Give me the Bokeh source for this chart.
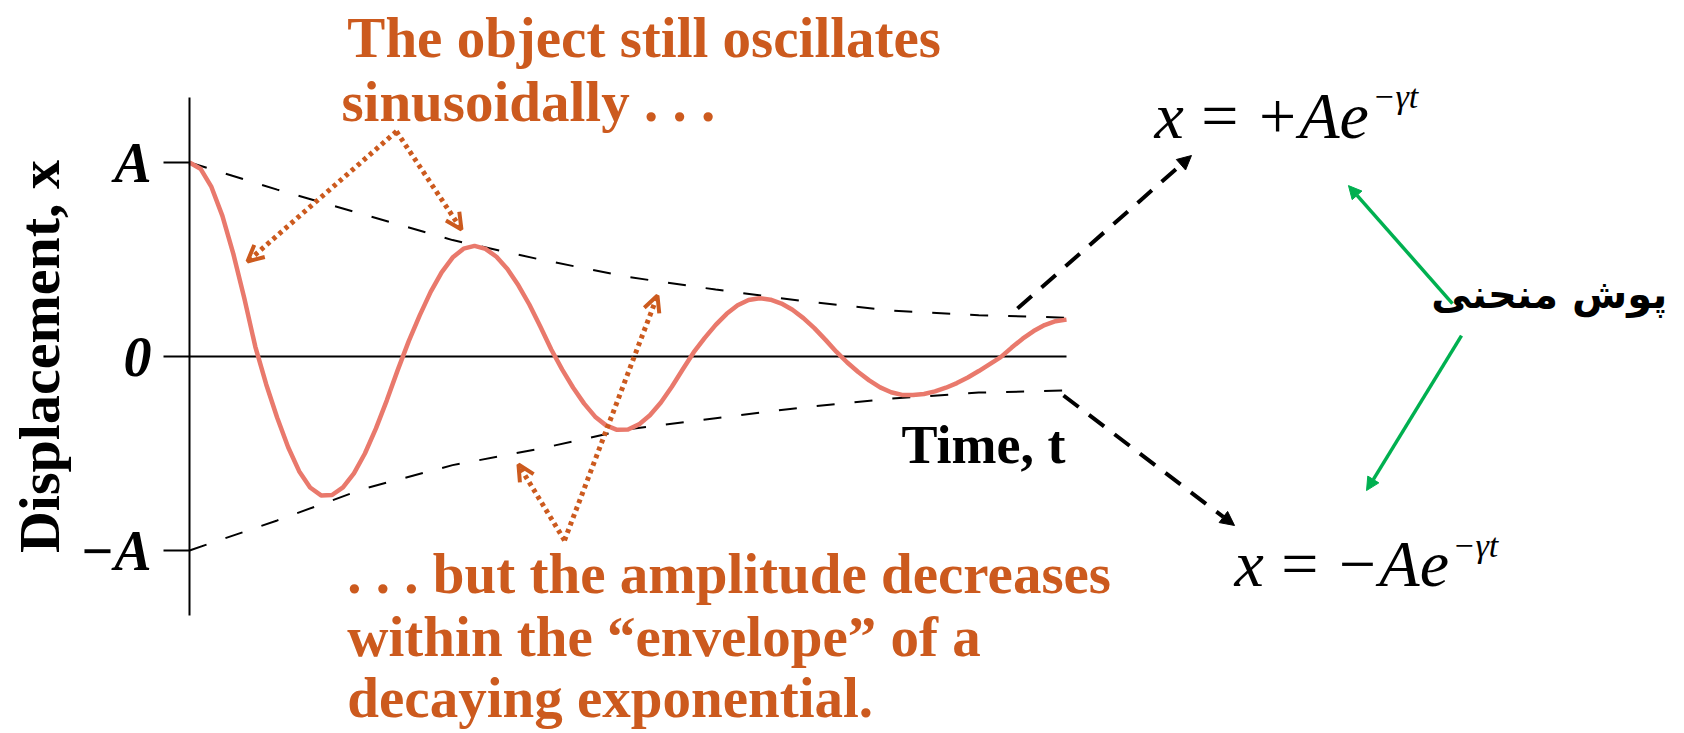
from bokeh.plotting import figure
from bokeh.models import Range1d, LinearAxis, FixedTicker, Arrow, OpenHead, NormalHead
from bokeh.core.properties import value
from bokeh.embed import file_html
from bokeh.resources import INLINE

# ---------------- data ----------------
# time (arbitrary units, axis runs 0..10) and displacement in units of A
time = [0.0, 0.125, 0.25, 0.375, 0.5, 0.625, 0.75, 0.875, 1.0, 1.125,
        1.25, 1.375, 1.5, 1.625, 1.75, 1.875, 2.0, 2.125, 2.25, 2.375,
        2.5, 2.625, 2.75, 2.875, 3.0, 3.125, 3.25, 3.375, 3.5, 3.625,
        3.75, 3.875, 4.0, 4.125, 4.25, 4.375, 4.5, 4.625, 4.75, 4.875,
        5.0, 5.125, 5.25, 5.375, 5.5, 5.625, 5.75, 5.875, 6.0, 6.125,
        6.25, 6.375, 6.5, 6.625, 6.75, 6.875, 7.0, 7.125, 7.25, 7.375,
        7.5, 7.625, 7.75, 7.875, 8.0, 8.125, 8.25, 8.375, 8.5, 8.625,
        8.75, 8.875, 9.0, 9.125, 9.25, 9.375, 9.5, 9.625, 9.75, 9.875, 10.0]
displacement = [1.000, 0.968, 0.874, 0.725, 0.529, 0.300, 0.051, -0.144, -0.316, -0.468,
                -0.591, -0.675, -0.716, -0.714, -0.675, -0.602, -0.500, -0.372, -0.226, -0.069,
                0.079, 0.212, 0.333, 0.434, 0.510, 0.556, 0.570, 0.555, 0.514, 0.451,
                0.367, 0.268, 0.155, 0.036, -0.068, -0.161, -0.243, -0.310, -0.355, -0.378,
                -0.376, -0.350, -0.303, -0.237, -0.156, -0.066, 0.022, 0.096, 0.163, 0.220,
                0.264, 0.291, 0.300, 0.293, 0.273, 0.241, 0.198, 0.146, 0.087, 0.025,
                -0.031, -0.080, -0.123, -0.159, -0.184, -0.198, -0.199, -0.193, -0.180, -0.161,
                -0.137, -0.108, -0.075, -0.039, -0.003, 0.046, 0.092, 0.131, 0.162, 0.182, 0.190]

env_time = [0, 1, 2, 3, 4, 5, 6, 7, 8, 9, 10]
env_upper = [1.00, 0.86, 0.73, 0.60, 0.50, 0.41, 0.345, 0.285, 0.237, 0.213, 0.20]
env_lower = [-1.00, -0.845, -0.68, -0.56, -0.475, -0.375, -0.318, -0.262, -0.217, -0.186, -0.175]

tick_values = [-1, 0, 1]
tick_labels = ["\u2212A", "0", "A"]

# ---------------- layout / style ----------------
W, H = 1684, 733
PX_T, PX_A = 87.7, 194.0          # pixels per time unit / per amplitude
OX, OY = 189.0, 356.0             # canvas position of the origin
ORANGE = "#CC5A1E"
CURVE = "#E9796C"
GREEN = "#00B050"
SERIF = value("Liberation Serif")

p = figure(width=W, height=H, output_backend="svg", toolbar_location=None,
           x_range=Range1d(-OX / PX_T, (W - OX) / PX_T),
           y_range=Range1d((OY - H) / PX_A, OY / PX_A),
           x_axis_type=None, y_axis_type=None, min_border=0,
           outline_line_color=None, background_fill_color="white",
           border_fill_color="white")

# vertical axis with A, 0, -A ticks
yaxis = LinearAxis(fixed_location=0, bounds=(-1.335, 1.335),
                   ticker=FixedTicker(ticks=tick_values),
                   major_label_overrides=dict(zip(tick_values, tick_labels)),
                   axis_line_width=2, axis_line_color="black",
                   major_tick_in=0, major_tick_out=26, major_tick_line_width=2,
                   minor_tick_line_color=None, major_label_standoff=12,
                   major_label_text_font="Liberation Serif",
                   major_label_text_font_style="bold italic",
                   major_label_text_font_size="56px", major_label_text_color="black",
                   axis_label="Displacement, x", axis_label_standoff=5,
                   axis_label_text_font="Liberation Serif",
                   axis_label_text_font_style="bold",
                   axis_label_text_font_size="58px", axis_label_text_color="black")
p.add_layout(yaxis, "left")

# horizontal time axis through zero
p.segment(x0=[0], y0=[0], x1=[env_time[-1]], y1=[0], line_color="black", line_width=2)

# envelope and damped oscillation
p.line(env_time, env_upper, line_color="black", line_width=2, line_dash="18 20")
p.line(env_time, env_lower, line_color="black", line_width=2, line_dash="18 20")
p.line(time, displacement, line_color=CURVE, line_width=4.5, line_join="round")

p.text(x=[9.989], y=[-0.458], text=["Time, t"], text_font=SERIF, text_font_style="bold",
       text_font_size="54px", text_color="black", text_align="right",
       text_baseline="middle")

# orange explanatory text
p.text(x=[1.80, 1.732], y=[1.645, 1.315],
       text=["The object still oscillates", "sinusoidally . . ."],
       text_font=SERIF, text_font_style="bold", text_font_size="57px",
       text_color=ORANGE, text_align="left", text_baseline="middle")
p.text(x=[1.80, 1.80, 1.80], y=[-1.118, -1.442, -1.757],
       text=[". . . but the amplitude decreases",
             "within the \u201cenvelope\u201d of a",
             "decaying exponential."],
       text_font=SERIF, text_font_style="bold", text_font_size="57px",
       text_color=ORANGE, text_align="left", text_baseline="middle")

# dotted orange arrows
def orange_arrow(x0, y0, x1, y1):
    p.add_layout(Arrow(end=OpenHead(size=16, line_color=ORANGE, line_width=4),
                       x_start=x0, y_start=y0, x_end=x1, y_end=y1,
                       line_color=ORANGE, line_width=5, line_dash="4 4"))

orange_arrow(2.360, 1.160, 0.661, 0.490)
orange_arrow(2.360, 1.160, 3.101, 0.655)
orange_arrow(4.276, -0.948, 3.751, -0.557)
orange_arrow(4.276, -0.948, 5.336, 0.314)

# black dashed arrows to the formulas
for (x0, y0, x1, y1) in [(9.441, 0.247, 11.425, 1.036), (9.966, -0.201, 11.916, -0.871)]:
    p.add_layout(Arrow(end=NormalHead(size=14, fill_color="black", line_color="black"),
                       x_start=x0, y_start=y0, x_end=x1, y_end=y1,
                       line_color="black", line_width=4, line_dash="19 13"))

# formulas
p.text(x=[11.003, 11.916], y=[1.244, -1.065],
       text=["x\u2009=\u2009+Ae", "x\u2009=\u2009\u2212Ae"],
       text_font=SERIF, text_font_style="italic", text_font_size="66px",
       text_color="black", text_align="left", text_baseline="middle")
p.text(x=[13.489, 14.401], y=[1.338, -0.972], text=["\u2212\u03b3t", "\u2212\u03b3t"],
       text_font=SERIF, text_font_style="italic", text_font_size="34px",
       text_color="black", text_align="left", text_baseline="middle")

# green arrows and Persian label
for (x0, y0, x1, y1) in [(14.401, 0.273, 13.215, 0.881), (14.504, 0.108, 13.421, -0.691)]:
    p.add_layout(Arrow(end=NormalHead(size=13, fill_color=GREEN, line_color=GREEN),
                       x_start=x0, y_start=y0, x_end=x1, y_end=y1,
                       line_color=GREEN, line_width=3.5))

p.text(x=[16.85], y=[0.32], text=["پوش منحنی"], text_font=value("DejaVu Sans"),
       text_font_style="bold", text_font_size="40px", text_color="black",
       text_align="right", text_baseline="middle")

open("out.html", "w").write(file_html(p, INLINE))
